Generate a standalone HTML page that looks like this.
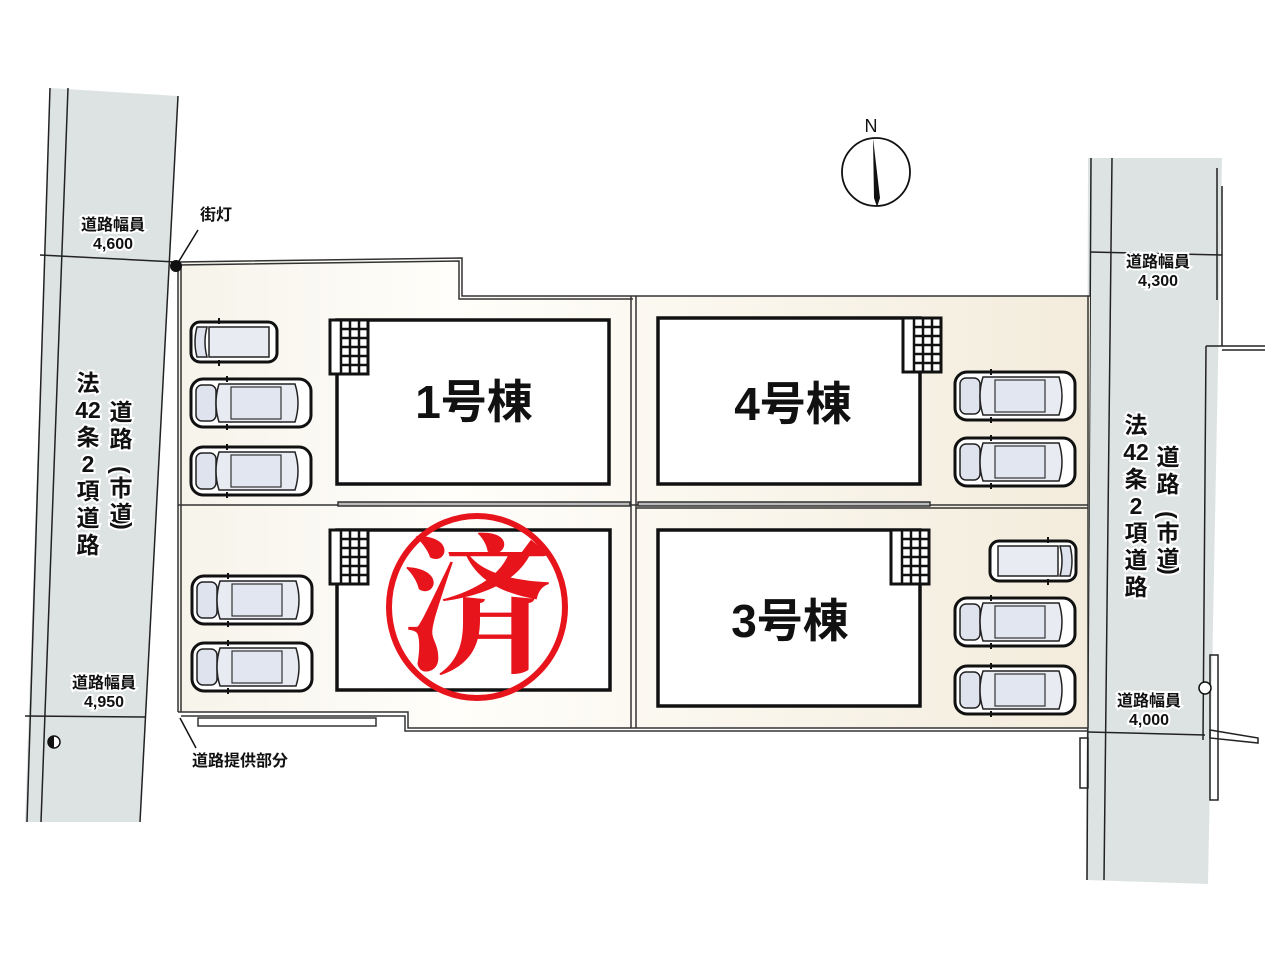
<!DOCTYPE html>
<html><head><meta charset="utf-8"><style>
html,body{margin:0;padding:0;background:#fff;}
svg{display:block;}
text{font-family:"Liberation Sans","Noto Sans CJK JP",sans-serif;font-weight:bold;}
</style></head><body>
<svg width="1280" height="960" viewBox="0 0 1280 960" xmlns="http://www.w3.org/2000/svg">
<defs>
<linearGradient id="lot" x1="0" x2="1" y1="0" y2="0">
<stop offset="0" stop-color="#f6f3ea"/><stop offset="0.3" stop-color="#fffefa"/><stop offset="1" stop-color="#f3ecdc"/>
</linearGradient>
<g id="car">
<rect x="0" y="0" width="120" height="48" rx="12" fill="#fff" stroke="#111" stroke-width="3"/>
<rect x="5" y="6" width="20" height="36" rx="6" fill="#dfe3ee" stroke="#222" stroke-width="1.5"/>
<path d="M28 5 Q22 24 28 43 L104 43 Q110 24 104 5 Z" fill="#e8ebf2" stroke="#222" stroke-width="1.5"/>
<rect x="40" y="8" width="50" height="32" fill="#e2e6f0" stroke="#333" stroke-width="1.2"/>
<line x1="36" y1="-3" x2="36" y2="3" stroke="#111" stroke-width="2"/>
<line x1="36" y1="45" x2="36" y2="51" stroke="#111" stroke-width="2"/>
</g>
<g id="van">
<rect x="0" y="0" width="86" height="40" rx="9" fill="#fff" stroke="#111" stroke-width="3"/>
<path d="M6 5 Q2 20 6 35 L16 35 Q12 20 16 5 Z" fill="#dfe3ee" stroke="#222" stroke-width="1.5"/>
<rect x="18" y="5" width="60" height="30" fill="#e8ebf2" stroke="#222" stroke-width="1.5"/>
<line x1="28" y1="-4" x2="28" y2="2" stroke="#111" stroke-width="2"/>
<line x1="28" y1="38" x2="28" y2="44" stroke="#111" stroke-width="2"/>
</g>
<g id="grid">
<rect x="0" y="0" width="38" height="54" fill="#fff" stroke="#111" stroke-width="3"/>
<g stroke="#111" stroke-width="2.5">
<line x1="11" y1="0" x2="11" y2="54"/><line x1="20" y1="0" x2="20" y2="54"/><line x1="29" y1="0" x2="29" y2="54"/>
<line x1="11" y1="9" x2="38" y2="9"/><line x1="11" y1="18" x2="38" y2="18"/><line x1="11" y1="27" x2="38" y2="27"/><line x1="11" y1="36" x2="38" y2="36"/><line x1="11" y1="45" x2="38" y2="45"/>
</g>
</g>
</defs>

<!-- left road -->
<polygon points="50,88 178,96 140,822 25,822" fill="#dde3e3"/>
<g stroke="#222" stroke-width="1.5" fill="none">
<line x1="50" y1="88" x2="27" y2="822"/>
<line x1="68" y1="88" x2="41" y2="822"/>
<line x1="178" y1="96" x2="140" y2="822"/>
<line x1="40" y1="255" x2="176" y2="262"/>
<line x1="25" y1="716" x2="145" y2="717"/>
</g>
<!-- right road -->
<polygon points="1088,158 1222,158 1208,884 1086,880" fill="#dde3e3"/>
<g stroke="#222" stroke-width="1.5" fill="none">
<line x1="1091" y1="158" x2="1087" y2="880"/>
<line x1="1112" y1="158" x2="1104" y2="880"/>
<line x1="1217" y1="168" x2="1217" y2="300"/>
<line x1="1222" y1="186" x2="1222" y2="346"/>
<line x1="1090" y1="252" x2="1222" y2="255"/>
<line x1="1222" y1="346" x2="1265" y2="346"/>
<line x1="1222" y1="350" x2="1265" y2="350"/>
<line x1="1206" y1="346" x2="1222" y2="346"/>
<line x1="1206" y1="346" x2="1203" y2="740"/>
<line x1="1088" y1="732" x2="1205" y2="735"/>
<polygon points="1210,730 1258,738 1258,743 1210,738"/>
<rect x="1080" y="738" width="8" height="50"/>
<rect x="1210" y="655" width="8" height="145"/>
</g>

<!-- lot -->
<polygon points="178,262 462,258 462,296 1090,296 1088,728 408,728 408,712 178,712" fill="url(#lot)"/>
<g stroke="#333" stroke-width="1.5" fill="none">
<polyline points="178,262 462,258 462,296 1090,296"/>
<polyline points="178,265 459,261 459,299 633,299"/>
<line x1="178" y1="262" x2="178" y2="712"/>
<line x1="181" y1="265" x2="181" y2="712"/>
<polyline points="178,712 408,712 408,728 1088,728"/>
<polyline points="181,716 405,716 405,731 1088,731"/>
<line x1="1088" y1="296" x2="1088" y2="728"/>
<line x1="631" y1="296" x2="631" y2="728"/>
<line x1="636" y1="296" x2="636" y2="728"/>
<line x1="178" y1="505" x2="1088" y2="505"/>
<line x1="636" y1="508" x2="1088" y2="508"/>
<rect x="338" y="502" width="292" height="4" fill="#bbb"/>
<rect x="638" y="502" width="292" height="4" fill="#bbb"/>
<rect x="198" y="718" width="178" height="8"/>
</g>
<!-- street light -->
<circle cx="176" cy="266" r="6" fill="#111"/>
<line x1="176" y1="266" x2="198" y2="230" stroke="#111" stroke-width="1.5"/>
<circle cx="54" cy="742" r="6" fill="#fff" stroke="#111" stroke-width="1.5"/>
<path d="M54 736 A6 6 0 0 0 54 748 Z" fill="#111"/>
<circle cx="1205" cy="688" r="6" fill="#fff" stroke="#111" stroke-width="1.5"/>
<line x1="180" y1="718" x2="196" y2="748" stroke="#111" stroke-width="1.5"/>

<!-- buildings -->
<rect x="337" y="320" width="272" height="164" fill="#fff" stroke="#111" stroke-width="3.5"/>
<use href="#grid" x="330" y="320"/>
<rect x="337" y="530" width="273" height="160" fill="#fff" stroke="#111" stroke-width="3.5"/>
<use href="#grid" x="330" y="530"/>
<rect x="658" y="318" width="262" height="166" fill="#fff" stroke="#111" stroke-width="3.5"/>
<use href="#grid" x="903" y="318"/>
<rect x="658" y="530" width="262" height="176" fill="#fff" stroke="#111" stroke-width="3.5"/>
<use href="#grid" x="891" y="530"/>

<text x="474" y="418" font-size="46" text-anchor="middle" fill="#111">1号棟</text>
<text x="793" y="420" font-size="46" text-anchor="middle" fill="#111">4号棟</text>
<text x="790" y="637" font-size="46" text-anchor="middle" fill="#111">3号棟</text>

<!-- 済 stamp -->
<ellipse cx="477" cy="607" rx="88" ry="91" fill="none" stroke="#e8141c" stroke-width="6"/>
<text x="477" y="660" font-size="150" text-anchor="middle" fill="#e8141c" style="font-family:'Noto Serif CJK SC','Noto Sans CJK JP',serif;font-weight:bold">済</text>

<!-- cars -->
<use href="#van" x="191" y="322"/>
<use href="#car" x="191" y="379"/>
<use href="#car" x="191" y="447"/>
<use href="#car" x="192" y="576"/>
<use href="#car" x="192" y="643"/>
<use href="#car" x="955" y="372"/>
<use href="#car" x="955" y="438"/>
<use href="#van" x="990" y="541" transform="translate(2066,0) scale(-1,1)"/>
<use href="#car" x="955" y="598"/>
<use href="#car" x="955" y="666"/>

<!-- compass -->
<circle cx="876" cy="172" r="34" fill="none" stroke="#111" stroke-width="1.8"/>
<polygon points="873,138 880,198 877,207 874,198" fill="#111"/>
<text x="871" y="132" font-size="18" text-anchor="middle" fill="#111" style="font-weight:normal">N</text>

<!-- labels -->
<g font-size="16" text-anchor="middle" fill="#111" stroke="#fff" stroke-width="4" paint-order="stroke">
<text x="113" y="230">道路幅員</text><text x="113" y="249">4,600</text>
<text x="216" y="220">街灯</text>
<text x="104" y="688">道路幅員</text><text x="104" y="707">4,950</text>
<text x="240" y="766">道路提供部分</text>
<text x="1158" y="267">道路幅員</text><text x="1158" y="286">4,300</text>
<text x="1149" y="706">道路幅員</text><text x="1149" y="725">4,000</text>
</g>
<g font-size="23" text-anchor="middle" fill="#111" stroke="#fff" stroke-width="4" paint-order="stroke">
<text x="88" y="391">法</text><text x="88" y="418">42</text><text x="88" y="445">条</text><text x="88" y="472">2</text><text x="88" y="499">項</text><text x="88" y="526">道</text><text x="88" y="553">路</text>
<text x="121" y="420">道</text><text x="121" y="447">路</text>
<text x="121" y="478" transform="rotate(90 121 470)">(</text>
<text x="121" y="496">市</text><text x="121" y="522">道</text>
<text x="121" y="532" transform="rotate(90 121 526)">)</text>
<text x="1136" y="433">法</text><text x="1136" y="460">42</text><text x="1136" y="487">条</text><text x="1136" y="514">2</text><text x="1136" y="541">項</text><text x="1136" y="568">道</text><text x="1136" y="595">路</text>
<text x="1168" y="465">道</text><text x="1168" y="492">路</text>
<text x="1168" y="523" transform="rotate(90 1168 515)">(</text>
<text x="1168" y="541">市</text><text x="1168" y="567">道</text>
<text x="1168" y="577" transform="rotate(90 1168 571)">)</text>
</g>
</svg>
</body></html>
